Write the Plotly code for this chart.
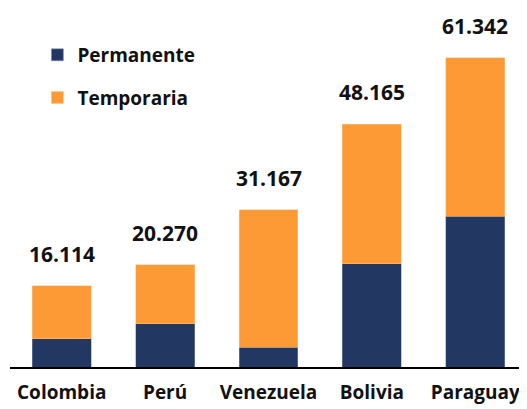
import plotly.graph_objects as go

countries = ["Colombia", "Perú", "Venezuela", "Bolivia", "Paraguay"]
permanente = [5600, 8540, 3970, 20450, 29970]
temporaria = [10514, 11730, 27197, 27715, 31372]
totals = [16114, 20270, 31167, 48165, 61342]
total_labels = ["16.114", "20.270", "31.167", "48.165", "61.342"]

FONT = "Open Sans"
NAVY = "#223863"
ORANGE = "#FE9A36"

fig = go.Figure()
fig.add_trace(go.Bar(x=countries, y=permanente, name="<b>Permanente</b>",
                     marker=dict(color=NAVY, line=dict(color="#8894ab", width=0.5)),
                     width=0.57, legendgroup="p"))
fig.add_trace(go.Bar(x=countries, y=temporaria, name="<b>Temporaria</b>",
                     marker=dict(color=ORANGE, line=dict(color="#fcc48e", width=0.5)),
                     width=0.57, legendgroup="t"))

for c, t, lab in zip(countries, totals, total_labels):
    fig.add_annotation(x=c, y=t, text=f"<b>{lab}</b>", showarrow=False,
                       yanchor="bottom", yshift=16,
                       font=dict(family=FONT, size=21, color="#111111"))

fig.update_layout(
    width=519, height=401,
    margin=dict(l=2, r=0, t=12, b=42),
    barmode="stack",
    plot_bgcolor="white", paper_bgcolor="white",
    font=dict(family=FONT, size=19, color="#111111"),
    showlegend=True,
    legend=dict(x=0.053, y=0.954, xanchor="left", yanchor="top",
                traceorder="grouped", tracegroupgap=15,
                font=dict(family=FONT, size=19, color="#111111"),
                itemwidth=30),
    xaxis=dict(showline=True, linecolor="black", linewidth=1.5,
               tickfont=dict(family=FONT, size=19, color="#111111"),
               ticks="outside", ticklen=7, tickcolor="rgba(0,0,0,0)",
               range=[-0.5, 4.5], automargin=False,
               tickvals=countries, ticktext=[f"<b>{c}</b>" for c in countries]),
    yaxis=dict(visible=False, range=[0, 68880], automargin=False),
)

fig.write_html("out.html")
